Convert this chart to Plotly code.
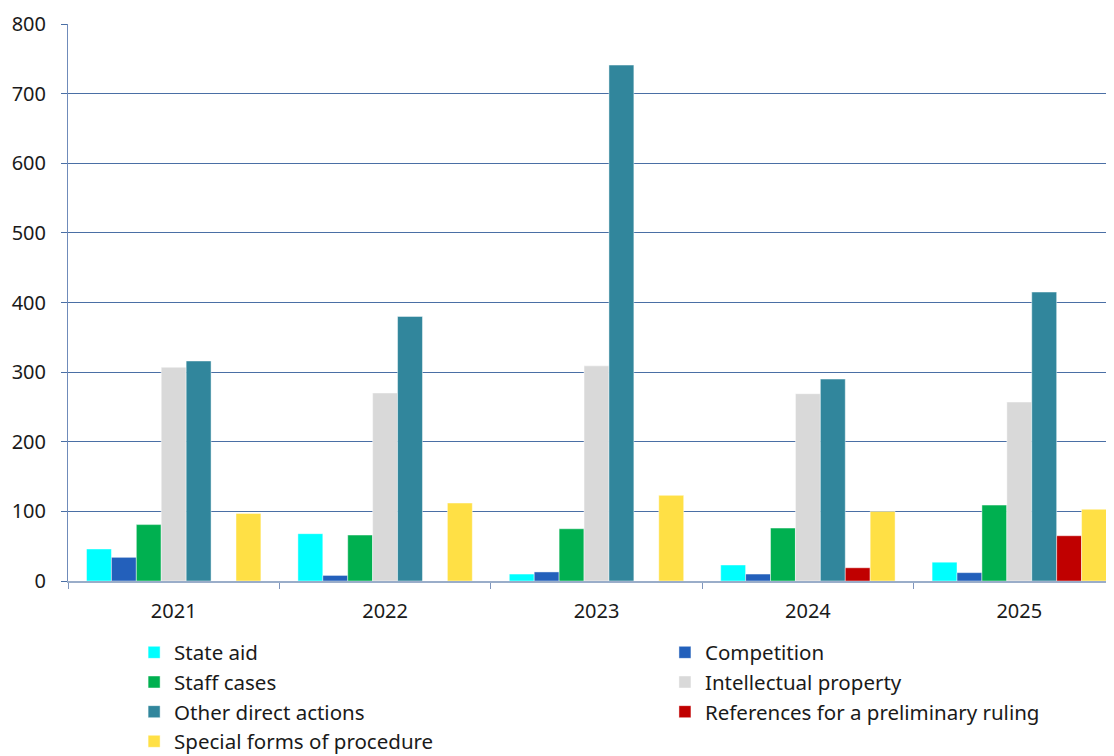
import plotly.graph_objects as go

years = ["2021", "2022", "2023", "2024", "2025"]
series_names = ["State aid", "Competition", "Staff cases", "Intellectual property",
                "Other direct actions", "References for a preliminary ruling",
                "Special forms of procedure"]
state_aid = [46, 68, 10, 23, 27]
competition = [34, 8, 13, 10, 12]
staff_cases = [81, 66, 75, 76, 109]
intellectual_property = [307, 270, 309, 269, 257]
other_direct_actions = [316, 380, 741, 290, 415]
references = [0, 0, 0, 19, 65]
special_forms = [97, 112, 123, 100, 103]

values = [state_aid, competition, staff_cases, intellectual_property,
          other_direct_actions, references, special_forms]
colors = ["#00FFFF", "#2360BB", "#00B050", "#D9D9D9", "#31869C", "#C00000", "#FFE045"]
legend_ids = ["legend", "legend2", "legend", "legend2", "legend", "legend2", "legend"]

fig = go.Figure()
for name, vals, col, lg in zip(series_names, values, colors, legend_ids):
    fig.add_trace(go.Bar(
        x=years, y=vals, name=name, legend=lg,
        marker=dict(color=col, line=dict(width=1, color="rgba(255,255,255,0.45)")),
    ))

font = dict(family="Noto Sans, Open Sans, sans-serif", size=20, color="#1a1a1a")
legend_common = dict(
    orientation="v", xanchor="left", yanchor="top",
    font=dict(family="Noto Sans, Open Sans, sans-serif", size=20.5, color="#1a1a1a"),
    bgcolor="rgba(0,0,0,0)", itemclick=False, tracegroupgap=0,
)

fig.update_layout(
    width=1106, height=748,
    margin=dict(l=60, r=0, t=16, b=175, autoexpand=False),
    paper_bgcolor="white", plot_bgcolor="white",
    font=font,
    barmode="group", bargap=0.175, bargroupgap=0,
    showlegend=True,
    legend=dict(x=0.0632, y=-0.0925, **legend_common),
    legend2=dict(x=0.5707, y=-0.0925, **legend_common),
    xaxis=dict(
        type="category", range=[-0.5, 4.448],
        showgrid=False, showline=True, linecolor="#9AADC9", linewidth=2,
        ticks="outside", tickson="boundaries", ticklen=6, tickcolor="#7F95BC",
        tickfont=font, zeroline=False, ticklabelstandoff=11,
    ),
    yaxis=dict(
        range=[0, 800], dtick=100, tick0=0,
        showgrid=True, gridcolor="#4A6FA5", gridwidth=1,
        showline=True, linecolor="#6F8BBA", linewidth=1,
        ticks="outside", ticklen=6, tickcolor="#4A6FA5",
        zeroline=False, tickfont=font, ticklabelstandoff=11,
    ),
)

fig.write_html("out.html")
